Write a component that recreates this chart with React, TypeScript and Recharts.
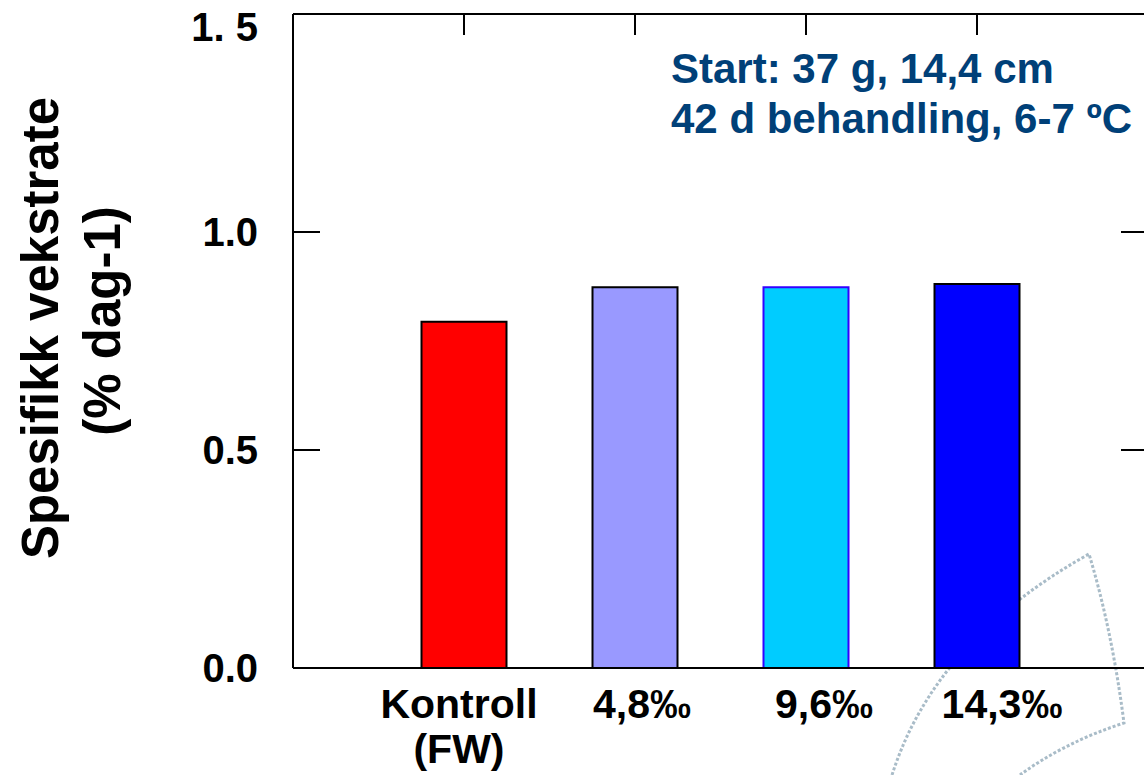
import { Bar, BarChart, Cell, XAxis, YAxis } from "recharts";

// Spesifikk vekstrate per behandling (salinitet)
const CATEGORIES = ["Kontroll\n(FW)", "4,8‰", "9,6‰", "14,3‰"];
const GROWTH_RATE = [0.794, 0.873, 0.873, 0.881];
const Y_TICKS = [0, 0.5, 1.0, 1.5];

const BAR_FILLS = ["#ff0000", "#9999ff", "#00ccff", "#0000ff"];
const BAR_STROKES = ["#000000", "#000000", "#3300ff", "#000000"];
// small horizontal nudges so labels sit like in the original slide
const LABEL_SHIFT = [-5, 7, 18, 25];

const FONT = "'Liberation Sans', Arial, sans-serif";
const NOTE_COLOR = "#004078";

const data = CATEGORIES.map((name, i) => ({ name, value: GROWTH_RATE[i] }));

const hiddenTick = () => <g />;

function CategoryTick({ x, y, payload, index }: any) {
  const lines = String(payload.value).split("\n");
  const cx = x + (LABEL_SHIFT[index] ?? 0);
  return (
    <text
      x={cx}
      y={y + 50}
      textAnchor="middle"
      fontFamily={FONT}
      fontWeight="bold"
      fontSize={41}
      fill="#000"
    >
      {lines.map((l, i) => (
        <tspan key={i} x={cx} dy={i === 0 ? 0 : 45}>
          {l}
        </tspan>
      ))}
    </text>
  );
}

function ValueTick({ x, y, payload }: any) {
  const v = Number(payload.value);
  const label = v === 1.5 ? "1. 5" : v.toFixed(1);
  const shift = v === 1.5 ? 13 : 0;
  return (
    <text
      x={x}
      y={y + shift}
      dy="0.36em"
      textAnchor="end"
      fontFamily={FONT}
      fontWeight="bold"
      fontSize={40}
      fill="#000"
    >
      {label}
    </text>
  );
}

export default function App() {
  return (
    <div style={{ width: 1144, height: 775, overflow: "hidden", background: "#fff" }}>
      <style>{"body{margin:0}"}</style>
      <BarChart
        width={1150}
        height={775}
        data={data}
        margin={{ top: 14, right: 2, left: 173, bottom: 7 }}
      >
        <path
          d="M 892 775 Q 935 640 1089 554 Q 1112 630 1124 723 Q 1065 742 1020 775"
          fill="none"
          stroke="#a9bcc8"
          strokeWidth={3}
          strokeDasharray="3 2"
        />
        <XAxis
          xAxisId="bottom"
          dataKey="name"
          height={100}
          padding={{ left: 85.5, right: 85.5 }}
          tickLine={false}
          tickSize={0}
          tickMargin={0}
          axisLine={{ stroke: "#000", strokeWidth: 2 }}
          tick={CategoryTick}
          interval={0}
        />
        <XAxis
          xAxisId="top"
          dataKey="name"
          orientation="top"
          mirror
          padding={{ left: 85.5, right: 85.5 }}
          tickSize={21}
          tickLine={{ stroke: "#000", strokeWidth: 2 }}
          axisLine={{ stroke: "#000", strokeWidth: 2 }}
          tick={hiddenTick}
          interval={0}
        />
        <YAxis
          yAxisId="left"
          width={120}
          domain={[0, 1.5]}
          ticks={Y_TICKS}
          tickLine={false}
          tickSize={0}
          tickMargin={35}
          axisLine={false}
          tick={ValueTick}
          interval={0}
        />
        <YAxis
          yAxisId="leftTicks"
          mirror
          domain={[0, 1.5]}
          allowDataOverflow
          ticks={Y_TICKS}
          tickSize={27}
          tickLine={{ stroke: "#000", strokeWidth: 2 }}
          axisLine={{ stroke: "#000", strokeWidth: 2 }}
          tick={hiddenTick}
          interval={0}
        />
        <YAxis
          yAxisId="right"
          orientation="right"
          mirror
          domain={[0, 1.5]}
          allowDataOverflow
          ticks={Y_TICKS}
          tickSize={27}
          tickLine={{ stroke: "#000", strokeWidth: 2 }}
          axisLine={{ stroke: "#000", strokeWidth: 2 }}
          tick={hiddenTick}
          interval={0}
        />
        <Bar
          xAxisId="bottom"
          yAxisId="left"
          dataKey="value"
          barSize={85}
          strokeWidth={2}
          isAnimationActive={false}
        >
          {data.map((d, i) => (
            <Cell key={d.name} fill={BAR_FILLS[i]} stroke={BAR_STROKES[i]} />
          ))}
        </Bar>
        <g fontFamily={FONT} fontWeight="bold" fill="#000">
          <text transform="translate(58,328) rotate(-90)" textAnchor="middle" fontSize={51}>
            Spesifikk vekstrate
          </text>
          <text transform="translate(120,321) rotate(-90)" textAnchor="middle" fontSize={51}>
            (% dag-1)
          </text>
        </g>
        <g fontFamily={FONT} fontWeight="bold" fill={NOTE_COLOR} fontSize={42}>
          <text x={671} y={83}>
            Start: 37 g, 14,4 cm
          </text>
          <text x={671} y={133}>
            42 d behandling, 6-7 ºC
          </text>
        </g>
      </BarChart>
    </div>
  );
}
